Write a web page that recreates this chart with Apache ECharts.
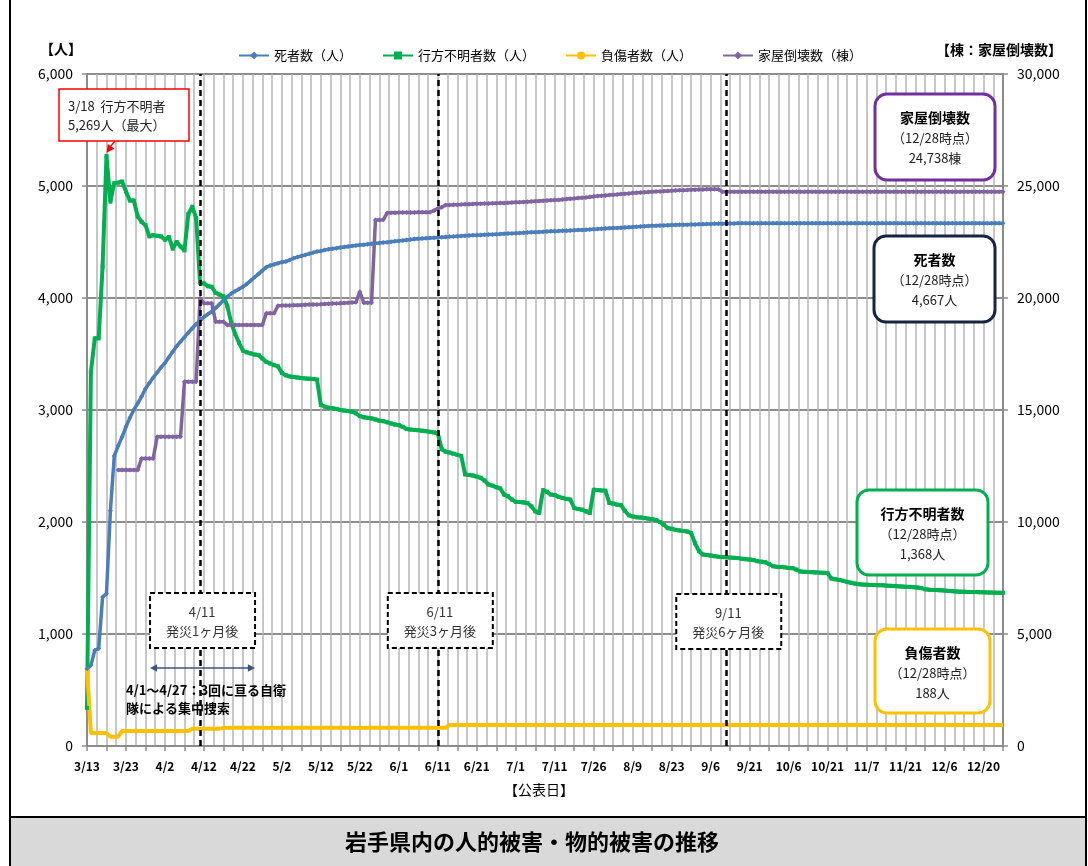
<!DOCTYPE html>
<html>
<head>
<meta charset="utf-8">
<script src="https://cdn.jsdelivr.net/npm/echarts@6/dist/echarts.min.js"></script>
<style>
  html, body { margin: 0; padding: 0; background: #fff; }
  #c { width: 1088px; height: 866px; }
</style>
</head>
<body>
<div id="c"></div>
<script>
// Publication dates (daily until mid-July, then business days)
const dates = [
  '3/13','3/14','3/15','3/16','3/17','3/18','3/19','3/20','3/21','3/22','3/23','3/24','3/25','3/26','3/27','3/28','3/29','3/30','3/31',
  '4/1','4/2','4/3','4/4','4/5','4/6','4/7','4/8','4/9','4/10','4/11','4/12','4/13','4/14','4/15','4/16','4/17','4/18','4/19','4/20',
  '4/21','4/22','4/23','4/24','4/25','4/26','4/27','4/28','4/29','4/30',
  '5/1','5/2','5/3','5/4','5/5','5/6','5/7','5/8','5/9','5/10','5/11','5/12','5/13','5/14','5/15','5/16','5/17','5/18','5/19','5/20',
  '5/21','5/22','5/23','5/24','5/25','5/26','5/27','5/28','5/29','5/30','5/31',
  '6/1','6/2','6/3','6/4','6/5','6/6','6/7','6/8','6/9','6/10','6/11','6/12','6/13','6/14','6/15','6/16','6/17','6/18','6/19','6/20',
  '6/21','6/22','6/23','6/24','6/25','6/26','6/27','6/28','6/29','6/30',
  '7/1','7/2','7/3','7/4','7/5','7/6','7/7','7/8','7/9','7/10','7/11','7/12','7/13','7/14','7/15','7/19','7/20','7/21','7/22','7/25',
  '7/26','7/27','7/28','7/29',
  '8/1','8/2','8/3','8/4','8/5','8/8','8/9','8/10','8/11','8/12','8/15','8/16','8/17','8/18','8/19','8/22','8/23','8/24','8/25','8/26',
  '8/29','8/30','8/31',
  '9/1','9/2','9/5','9/6','9/7','9/8','9/9','9/12','9/13','9/14','9/15','9/16','9/20','9/21','9/22','9/26','9/27','9/28','9/29','9/30',
  '10/3','10/4','10/5','10/6','10/7','10/11','10/12','10/13','10/14','10/17','10/18','10/19','10/20','10/21','10/24','10/25','10/26','10/27','10/28','10/31',
  '11/1','11/2','11/4','11/7','11/8','11/9','11/10','11/11','11/14','11/15','11/16','11/17','11/18','11/21','11/22','11/24','11/25','11/28','11/29','11/30',
  '12/1','12/2','12/5','12/6','12/7','12/8','12/9','12/12','12/13','12/14','12/15','12/16','12/19','12/20','12/21','12/22','12/26','12/27','12/28'
];

// 死者数（人）
const deaths = [
  690, 720, 855, 870, 1330, 1360, 2100, 2590, 2680, 2760,
  2850, 2930, 3000, 3060, 3120, 3190, 3240, 3290, 3335, 3380,
  3420, 3470, 3520, 3570, 3610, 3650, 3690, 3730, 3765, 3800,
  3830, 3855, 3880, 3910, 3945, 3980, 4010, 4040, 4060, 4080,
  4100, 4125, 4155, 4185, 4215, 4245, 4275, 4290, 4300, 4310,
  4320, 4325, 4340, 4355, 4365, 4375, 4385, 4395, 4405, 4415,
  4420, 4428, 4435, 4440, 4445, 4450, 4455, 4460, 4465, 4468,
  4473, 4476, 4480, 4484, 4488, 4492, 4495, 4498, 4503, 4506,
  4510, 4514, 4518, 4522, 4526, 4530, 4532, 4534, 4536, 4538,
  4540, 4542, 4545, 4548, 4550, 4552, 4554, 4556, 4558, 4560,
  4561, 4563, 4565, 4567, 4568, 4570, 4571, 4573, 4575, 4577,
  4579, 4581, 4582, 4584, 4586, 4588, 4590, 4591, 4593, 4595,
  4597, 4598, 4600, 4601, 4603, 4605, 4607, 4608, 4610, 4612,
  4614, 4616, 4618, 4620, 4622, 4624, 4626, 4628, 4630, 4632,
  4634, 4636, 4638, 4640, 4642, 4644, 4645, 4647, 4648, 4650,
  4651, 4652, 4653, 4654, 4655, 4656, 4657, 4658, 4659, 4660,
  4661, 4662, 4663, 4664, 4665, 4666, 4666, 4667, 4667, 4667,
  4667, 4667, 4667, 4667, 4667, 4667, 4667, 4667, 4667, 4667,
  4667, 4667, 4667, 4667, 4667, 4667, 4667, 4667, 4667, 4667,
  4667, 4667, 4667, 4667, 4667, 4667, 4667, 4667, 4667, 4667,
  4667, 4667, 4667, 4667, 4667, 4667, 4667, 4667, 4667, 4667,
  4667, 4667, 4667, 4667, 4667, 4667, 4667, 4667, 4667, 4667,
  4667, 4667, 4667, 4667, 4667, 4667, 4667, 4667, 4667, 4667,
  4667, 4667, 4667, 4667, 4667, 4667
];

// 行方不明者数（人）
const missing = [
  340, 3340, 3640, 3640, 4280, 5269, 4860, 5025, 5030, 5040,
  4950, 4870, 4870, 4730, 4680, 4650, 4550, 4560, 4555, 4550,
  4520, 4545, 4440, 4500, 4460, 4425, 4750, 4815, 4715, 4135,
  4130, 4105, 4100, 4045, 4030, 4015, 3930, 3780, 3680, 3600,
  3530, 3515, 3505, 3495, 3490, 3460, 3430, 3415, 3400, 3390,
  3330, 3310, 3300, 3295, 3290, 3285, 3282, 3280, 3276, 3272,
  3045, 3030, 3020, 3015, 3010, 3000, 2995, 2990, 2985, 2970,
  2945, 2935, 2930, 2925, 2915, 2905, 2900, 2890, 2880, 2870,
  2865, 2850, 2830, 2825, 2822, 2820, 2815, 2810, 2805, 2800,
  2790, 2650, 2628, 2620, 2610, 2600, 2590, 2425, 2420, 2415,
  2405, 2395, 2370, 2335, 2325, 2310, 2300, 2245, 2230, 2200,
  2180, 2178, 2175, 2170, 2140, 2095, 2080, 2285, 2270, 2245,
  2240, 2225, 2215, 2205, 2200, 2125, 2115, 2110, 2095, 2080,
  2288, 2285, 2282, 2280, 2170, 2165, 2155, 2150, 2100, 2060,
  2050, 2042, 2040, 2035, 2030, 2025, 2018, 2000, 1975, 1945,
  1940, 1930, 1925, 1920, 1915, 1900, 1810, 1740, 1710, 1705,
  1700, 1695, 1690, 1688, 1685, 1682, 1680, 1678, 1672, 1668,
  1665, 1660, 1650, 1645, 1640, 1625, 1605, 1600, 1598, 1595,
  1590, 1588, 1575, 1558, 1556, 1554, 1552, 1550, 1548, 1546,
  1544, 1495, 1488, 1482, 1475, 1465, 1458, 1450, 1445, 1442,
  1440, 1438, 1437, 1436, 1435, 1432, 1430, 1428, 1426, 1424,
  1422, 1420, 1418, 1415, 1410, 1400, 1396, 1394, 1392, 1390,
  1388, 1385, 1382, 1380, 1378, 1377, 1376, 1375, 1374, 1373,
  1372, 1371, 1370, 1369, 1368, 1368
];

// 負傷者数（人）
const injured = [
  700, 115, 115, 115, 115, 115, 83, 83, 83, 134,
  134, 134, 134, 134, 134, 134, 134, 134, 134, 134,
  134, 134, 134, 134, 134, 134, 134, 155, 155, 155,
  155, 155, 155, 155, 155, 162, 162, 162, 162, 162,
  162, 162, 162, 162, 162, 162, 162, 162, 162, 162,
  162, 162, 162, 162, 162, 162, 162, 162, 162, 162,
  162, 162, 162, 162, 162, 162, 162, 162, 162, 162,
  162, 162, 162, 162, 162, 162, 162, 162, 162, 162,
  162, 162, 162, 162, 162, 162, 162, 162, 162, 162,
  162, 162, 162, 188, 188, 188, 188, 188, 188, 188,
  188, 188, 188, 188, 188, 188, 188, 188, 188, 188,
  188, 188, 188, 188, 188, 188, 188, 188, 188, 188,
  188, 188, 188, 188, 188, 188, 188, 188, 188, 188,
  188, 188, 188, 188, 188, 188, 188, 188, 188, 188,
  188, 188, 188, 188, 188, 188, 188, 188, 188, 188,
  188, 188, 188, 188, 188, 188, 188, 188, 188, 188,
  188, 188, 188, 188, 188, 188, 188, 188, 188, 188,
  188, 188, 188, 188, 188, 188, 188, 188, 188, 188,
  188, 188, 188, 188, 188, 188, 188, 188, 188, 188,
  188, 188, 188, 188, 188, 188, 188, 188, 188, 188,
  188, 188, 188, 188, 188, 188, 188, 188, 188, 188,
  188, 188, 188, 188, 188, 188, 188, 188, 188, 188,
  188, 188, 188, 188, 188, 188, 188, 188, 188, 188,
  188, 188, 188, 188, 188, 188
];

// 家屋倒壊数（棟）
const houses = [
  null, null, null, null, null, null, null, null, 12320, 12320,
  12320, 12320, 12320, 12320, 12840, 12840, 12840, 12840, 13810, 13810,
  13810, 13810, 13810, 13810, 13810, 16260, 16260, 16260, 16260, 19985,
  19762, 19762, 19762, 18941, 18941, 18941, 18800, 18800, 18800, 18800,
  18800, 18800, 18800, 18800, 18800, 18800, 19316, 19316, 19320, 19656,
  19660, 19665, 19670, 19675, 19680, 19690, 19700, 19705, 19710, 19715,
  19720, 19730, 19740, 19750, 19760, 19770, 19780, 19790, 19800, 19807,
  20280, 19790, 19790, 19790, 23480, 23480, 23490, 23800, 23805, 23810,
  23812, 23815, 23818, 23820, 23822, 23825, 23828, 23830, 23832, 23900,
  24000, 24050, 24150, 24155, 24160, 24165, 24170, 24180, 24190, 24200,
  24205, 24210, 24215, 24220, 24225, 24235, 24240, 24245, 24250, 24260,
  24270, 24280, 24290, 24300, 24310, 24320, 24330, 24340, 24350, 24360,
  24370, 24380, 24400, 24415, 24430, 24445, 24460, 24475, 24490, 24510,
  24530, 24550, 24565, 24580, 24595, 24610, 24625, 24640, 24655, 24670,
  24685, 24700, 24710, 24720, 24730, 24740, 24750, 24760, 24770, 24780,
  24790, 24800, 24808, 24815, 24822, 24830, 24836, 24842, 24848, 24852,
  24855, 24855, 24850, 24738, 24738, 24738, 24738, 24738, 24738, 24738,
  24738, 24738, 24738, 24738, 24738, 24738, 24738, 24738, 24738, 24738,
  24738, 24738, 24738, 24738, 24738, 24738, 24738, 24738, 24738, 24738,
  24738, 24738, 24738, 24738, 24738, 24738, 24738, 24738, 24738, 24738,
  24738, 24738, 24738, 24738, 24738, 24738, 24738, 24738, 24738, 24738,
  24738, 24738, 24738, 24738, 24738, 24738, 24738, 24738, 24738, 24738,
  24738, 24738, 24738, 24738, 24738, 24738, 24738, 24738, 24738, 24738,
  24738, 24738, 24738, 24738, 24738, 24738
];

// Milestone dates (1, 3 and 6 months after the disaster)
const milestoneDates = ['4/11', '6/11', '9/12'];
const milestoneLabels = [['4/11', '発災1ヶ月後'], ['6/11', '発災3ヶ月後'], ['9/11', '発災6ヶ月後']];

const seriesNames = ['死者数（人）', '行方不明者数（人）', '負傷者数（人）', '家屋倒壊数（棟）'];
const seriesColors = ['#4a7ebb', '#00b050', '#ffc000', '#8064a2'];

const FONT = '"Noto Sans CJK JP", "Noto Sans", sans-serif';
const fmt = v => v.toLocaleString('en-US');
const last = arr => arr[arr.length - 1];

const chart = echarts.init(document.getElementById('c'), null, { renderer: 'canvas' });

const option = {
  animation: false,
  backgroundColor: '#fff',
  textStyle: { fontFamily: FONT },
  legend: {
    left: 233, top: 44,
    itemWidth: 30, itemHeight: 10, itemGap: 30,
    textStyle: { fontSize: 13, color: '#000', fontFamily: FONT },
    data: seriesNames
  },
  grid: { left: 87, right: 85, top: 74, bottom: 120 },
  xAxis: [
    {
      type: 'category', data: dates, boundaryGap: false,
      axisLine: { lineStyle: { color: '#8c8c8c', width: 2 } },
      axisTick: { interval: 4, length: 5, lineStyle: { color: '#8c8c8c', width: 1.5 } },
      axisLabel: { interval: 9, fontSize: 12, fontWeight: 'bold', color: '#000', margin: 14, fontFamily: FONT },
      splitLine: { show: false }
    },
    {
      // fine vertical grid
      type: 'value', min: 0, max: dates.length - 1, interval: 2.5,
      axisLine: { show: false }, axisTick: { show: false }, axisLabel: { show: false },
      splitLine: { show: true, lineStyle: { color: '#b4b4b4', width: 1.5 } }
    }
  ],
  yAxis: [
    {
      type: 'value', min: 0, max: 6000, interval: 1000,
      axisLine: { show: true, lineStyle: { color: '#8c8c8c', width: 2 } },
      axisTick: { show: true, length: 5, lineStyle: { color: '#8c8c8c', width: 1.5 } },
      axisLabel: { fontSize: 14, color: '#000', margin: 14, fontFamily: FONT, formatter: v => fmt(v) },
      splitLine: { show: true, lineStyle: { color: '#8c8c8c', width: 2 } }
    },
    {
      type: 'value', min: 0, max: 30000, interval: 5000, position: 'right',
      axisLine: { show: true, lineStyle: { color: '#8c8c8c', width: 2 } },
      axisTick: { show: true, length: 5, lineStyle: { color: '#8c8c8c', width: 1.5 } },
      axisLabel: { fontSize: 14, color: '#000', margin: 14, fontFamily: FONT, formatter: v => fmt(v) },
      splitLine: { show: false }
    }
  ],
  series: [
    {
      name: seriesNames[0], type: 'line', data: deaths, xAxisIndex: 0, yAxisIndex: 0,
      color: seriesColors[0], lineStyle: { width: 3.5 }, symbol: 'diamond', symbolSize: 5, showAllSymbol: true,
      emphasis: { disabled: true },
      markLine: {
        silent: true, symbol: ['none', 'none'], label: { show: false },
        lineStyle: { color: '#000', type: [6, 4], width: 2.5 },
        emphasis: { disabled: true },
        data: milestoneDates.map(d => ({ xAxis: d }))
      }
    },
    {
      name: seriesNames[1], type: 'line', data: missing, xAxisIndex: 0, yAxisIndex: 0,
      color: seriesColors[1], lineStyle: { width: 4 }, symbol: 'rect', symbolSize: 4, showAllSymbol: true,
      emphasis: { disabled: true }
    },
    {
      name: seriesNames[2], type: 'line', data: injured, xAxisIndex: 0, yAxisIndex: 0,
      color: seriesColors[2], lineStyle: { width: 4 }, symbol: 'none',
      emphasis: { disabled: true }
    },
    {
      name: seriesNames[3], type: 'line', data: houses, xAxisIndex: 0, yAxisIndex: 1,
      color: seriesColors[3], lineStyle: { width: 3.5 }, symbol: 'diamond', symbolSize: 5, showAllSymbol: true,
      emphasis: { disabled: true }
    }
  ]
};

chart.setOption(option);

// ---- annotations ----
const g = [];
const text = (t, x, y, opts = {}) => g.push({
  type: 'text', z: 110,
  style: {
    text: t, x, y,
    fill: opts.color || '#000',
    font: `${opts.weight || 'normal'} ${opts.size || 13}px ${FONT}`,
    align: opts.align || 'left', verticalAlign: 'middle',
    textAlign: opts.align || 'left', textVerticalAlign: 'middle'
  }
});
const arrowHead = (x1, y1, x2, y2, size, color) => {
  const ang = Math.atan2(y2 - y1, x2 - x1);
  const a1 = ang + Math.PI * 0.85, a2 = ang - Math.PI * 0.85;
  g.push({
    type: 'polygon', z: 110,
    shape: { points: [[x2, y2], [x2 + size * Math.cos(a1), y2 + size * Math.sin(a1)], [x2 + size * Math.cos(a2), y2 + size * Math.sin(a2)]] },
    style: { fill: color }
  });
};

// outer frame and title band
g.push({ type: 'rect', z: 100, shape: { x: 10, y: -2, width: 1076, height: 870 }, style: { fill: null, stroke: '#000', lineWidth: 2 } });
g.push({ type: 'rect', z: 100, shape: { x: 10, y: 817, width: 1076, height: 52 }, style: { fill: '#d9d9d9', stroke: '#000', lineWidth: 2 } });
text('岩手県内の人的被害・物的被害の推移', 532, 842, { size: 22, weight: 'bold', align: 'center' });

// axis unit captions
text('【人】', 40, 49, { size: 14, weight: 'bold' });
text('【棟：家屋倒壊数】', 1062, 50, { size: 14, weight: 'bold', align: 'right' });
text('【公表日】', 539, 790, { size: 14, align: 'center' });

// peak callout for missing persons
const peakIdx = missing.indexOf(Math.max(...missing));
const peakPt = chart.convertToPixel({ seriesIndex: 1 }, [peakIdx, missing[peakIdx]]);
g.push({ type: 'rect', z: 105, shape: { x: 59, y: 89, width: 130, height: 52 }, style: { fill: '#fff', stroke: '#ff0000', lineWidth: 1.5 } });
text(`${dates[peakIdx]}  行方不明者`, 68, 106, { size: 13, color: '#222' });
text(`${fmt(missing[peakIdx])}人（最大）`, 68, 125, { size: 13, color: '#222' });
const tipX = peakPt[0], tipY = peakPt[1] - 3;
g.push({ type: 'line', z: 110, shape: { x1: 115, y1: 141, x2: tipX + 2, y2: tipY - 4 }, style: { stroke: '#ff0000', lineWidth: 1.5 } });
arrowHead(115, 141, tipX, tipY, 9, '#ff0000');

// milestone boxes on the dashed date lines
milestoneDates.forEach((d, i) => {
  const cx = chart.convertToPixel({ xAxisIndex: 0 }, d) + 2;
  const y0 = i === 2 ? 594 : 593;
  g.push({ type: 'rect', z: 105, shape: { x: cx - 52, y: y0, width: 105, height: 55 }, style: { fill: '#fff', stroke: '#000', lineWidth: 2, lineDash: [5, 3] } });
  text(milestoneLabels[i][0], cx, y0 + 19, { size: 13, color: '#333', align: 'center' });
  text(milestoneLabels[i][1], cx, y0 + 38, { size: 13, color: '#333', align: 'center' });
});

// intensive search period
g.push({ type: 'line', z: 110, shape: { x1: 155, y1: 668, x2: 250, y2: 668 }, style: { stroke: '#3b5578', lineWidth: 1.5 } });
arrowHead(250, 668, 255, 668, 8, '#3b5578');
arrowHead(155, 668, 150, 668, 8, '#3b5578');
text('4/1～4/27：3回に亘る自衛', 126, 690, { size: 13, weight: 'bold' });
text('隊による集中捜索', 126, 708, { size: 13, weight: 'bold' });

// latest-value boxes
const endDate = last(dates);
const boxes = [
  { x: 875, y: 94, w: 120, h: 86, c: '#7030a0', title: '家屋倒壊数', val: `${fmt(last(houses))}棟` },
  { x: 874, y: 236, w: 121, h: 86, c: '#172640', title: '死者数', val: `${fmt(last(deaths))}人` },
  { x: 857, y: 490, w: 131, h: 85, c: '#00b050', title: '行方不明者数', val: `${fmt(last(missing))}人` },
  { x: 875, y: 629, w: 115, h: 84, c: '#ffc000', title: '負傷者数', val: `${fmt(last(injured))}人` }
];
boxes.forEach(b => {
  g.push({ type: 'rect', z: 105, shape: { x: b.x, y: b.y, width: b.w, height: b.h, r: 12 }, style: { fill: '#fff', stroke: b.c, lineWidth: 3 } });
  const cx = b.x + b.w / 2;
  text(b.title, cx, b.y + 24, { size: 14, weight: 'bold', align: 'center' });
  text(`（${endDate}時点）`, cx, b.y + 44, { size: 13, color: '#222', align: 'center' });
  text(b.val, cx, b.y + 64, { size: 13, color: '#222', align: 'center' });
});

chart.setOption({ graphic: { elements: g } });
</script>
</body>
</html>
